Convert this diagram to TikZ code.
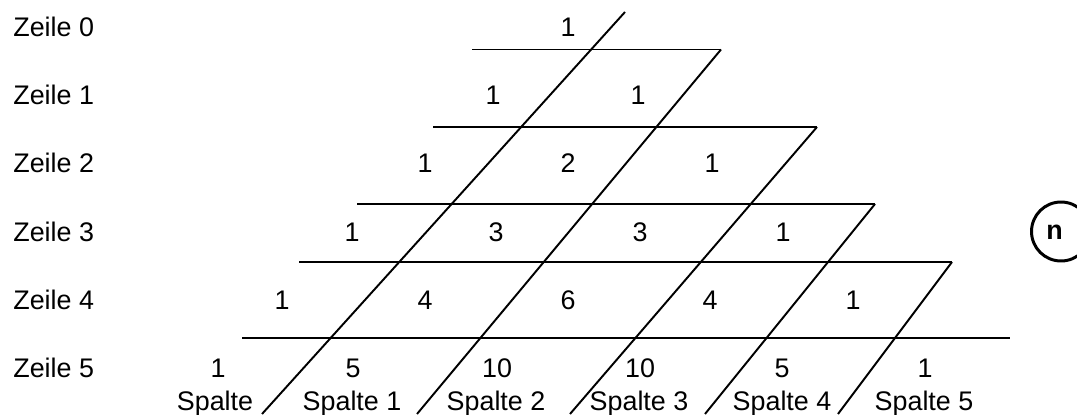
\documentclass[tikz,border=0pt]{standalone}
\usepackage{fontspec}
\setmainfont{Liberation Sans}
\usepackage{tikz}

\begin{document}
\begin{tikzpicture}[every node/.style={font=\fontsize{15.3}{18}\selectfont, inner sep=0pt}, num/.style={anchor=base}, rowlab/.style={anchor=base west}, grid/.style={line width=1.1pt}, ring/.style={line width=1.7pt}]
\useasboundingbox (0,0) rectangle (21.54,8.28);
% row labels
\foreach \r/\y in {0/7.54,1/6.18,2/4.82,3/3.46,4/2.10,5/0.74}
  \node[rowlab] (zeile\r) at (0.26,\y) {Zeile \r};
% end points of the grid lines
\coordinate (h1w) at (9.44,7.29); \coordinate (h1e) at (14.42,7.29);
\coordinate (h2w) at (8.66,5.74); \coordinate (h2e) at (16.34,5.74);
\coordinate (h3w) at (7.14,4.20); \coordinate (h3e) at (17.50,4.20);
\coordinate (h4w) at (5.98,3.04); \coordinate (h4e) at (19.04,3.04);
\coordinate (h5w) at (4.84,1.52); \coordinate (h5e) at (20.20,1.52);
\coordinate (d1n) at (12.50,8.04);
\coordinate (d1s) at (5.24,0); \coordinate (d2s) at (8.34,0); \coordinate (d3s) at (11.40,0);
\coordinate (d4s) at (14.10,0); \coordinate (d5s) at (16.76,0);
\draw[grid] (h1w) -- (h1e); \draw[grid] (h2w) -- (h2e); \draw[grid] (h3w) -- (h3e);
\draw[grid] (h4w) -- (h4e); \draw[grid] (h5w) -- (h5e);
\draw[grid] (d1n) -- (d1s); \draw[grid] (h1e) -- (d2s); \draw[grid] (h2e) -- (d3s);
\draw[grid] (h3e) -- (d4s); \draw[grid] (h4e) -- (d5s);
% the triangle
\node[num] (r0c0) at (11.36,7.54) {1};
\node[num] (r1c0) at (9.86,6.18) {1};
\node[num] (r1c1) at (12.76,6.18) {1};
\node[num] (r2c0) at (8.50,4.82) {1};
\node[num] (r2c1) at (11.36,4.82) {2};
\node[num] (r2c2) at (14.24,4.82) {1};
\node[num] (r3c0) at (7.04,3.46) {1};
\node[num] (r3c1) at (9.92,3.46) {3};
\node[num] (r3c2) at (12.80,3.46) {3};
\node[num] (r3c3) at (15.66,3.46) {1};
\node[num] (r4c0) at (5.64,2.10) {1};
\node[num] (r4c1) at (8.50,2.10) {4};
\node[num] (r4c2) at (11.36,2.10) {6};
\node[num] (r4c3) at (14.20,2.10) {4};
\node[num] (r4c4) at (17.06,2.10) {1};
\node[num] (r5c0) at (4.36,0.74) {1};
\node[num] (r5c1) at (7.06,0.74) {5};
\node[num] (r5c2) at (9.94,0.74) {10};
\node[num] (r5c3) at (12.80,0.74) {10};
\node[num] (r5c4) at (15.64,0.74) {5};
\node[num] (r5c5) at (18.50,0.74) {1};
% column labels
\node[num] (spalte0) at (4.30,0.08) {Spalte};
\node[num] (spalte1) at (7.04,0.08) {Spalte 1};
\node[num] (spalte2) at (9.92,0.08) {Spalte 2};
\node[num] (spalte3) at (12.78,0.08) {Spalte 3};
\node[num] (spalte4) at (15.64,0.08) {Spalte 4};
\node[num] (spalte5) at (18.48,0.08) {Spalte 5};
% n
\node[num, font=\fontsize{15.3}{18}\selectfont\bfseries] (nlabel) at (21.09,3.50) {n};
\draw[ring] (21.22,3.65) circle (0.59);
\end{tikzpicture}
\end{document}
